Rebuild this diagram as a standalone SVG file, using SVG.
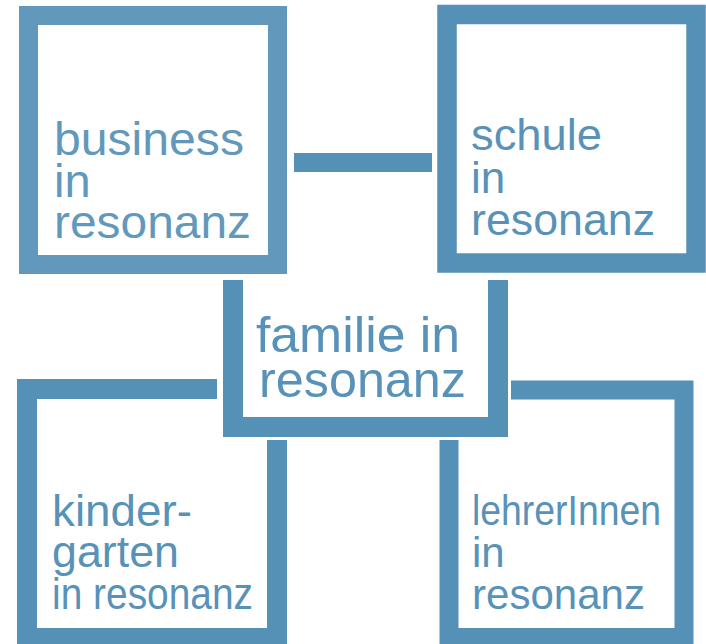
<svg xmlns="http://www.w3.org/2000/svg" width="706" height="644" viewBox="0 0 706 644">
<style>
.frame{fill:none;stroke:#5590b7;stroke-linejoin:miter;stroke-linecap:butt}
.lbl{font-family:"Liberation Sans",Arial,Helvetica,sans-serif;fill:#5892b8}
</style>
<rect width="706" height="644" fill="#ffffff"/>
<g id="connectors">
<rect x="294" y="153" width="138" height="19" fill="#5590b7"/>
</g>
<g id="business">
<rect class="frame" x="28.5" y="15.5" width="249" height="249" stroke-width="19" style="stroke:#6298bb"/>
<text class="lbl" font-size="47" style="fill:#6298bb"><tspan x="54" y="155" textLength="190" lengthAdjust="spacingAndGlyphs">business</tspan><tspan x="54" y="197">in</tspan><tspan x="54" y="238" textLength="197" lengthAdjust="spacingAndGlyphs">resonanz</tspan></text>
</g>
<g id="schule">
<rect class="frame" x="447" y="14.5" width="249" height="248.5" stroke-width="19.5"/>
<text class="lbl" font-size="44"><tspan x="471" y="150" textLength="131" lengthAdjust="spacingAndGlyphs">schule</tspan><tspan x="471" y="193">in</tspan><tspan x="471" y="235" textLength="184" lengthAdjust="spacingAndGlyphs">resonanz</tspan></text>
</g>
<g id="familie">
<path class="frame" d="M233,280 V427 H498 V280" stroke-width="20"/>
<text class="lbl" font-size="50"><tspan x="256" y="352" textLength="204" lengthAdjust="spacingAndGlyphs">familie in</tspan><tspan x="259" y="397" textLength="207" lengthAdjust="spacingAndGlyphs">resonanz</tspan></text>
</g>
<g id="kindergarten">
<path class="frame" d="M217,389 H27 V638 H277 V440" stroke-width="20"/>
<text class="lbl" font-size="44"><tspan x="52" y="526" textLength="140" lengthAdjust="spacingAndGlyphs">kinder-</tspan><tspan x="52" y="567" textLength="127" lengthAdjust="spacingAndGlyphs">garten</tspan><tspan x="52" y="609" textLength="201" lengthAdjust="spacingAndGlyphs">in resonanz</tspan></text>
</g>
<g id="lehrerinnen">
<path class="frame" d="M511,390 H684 V637.5 H449 V440" stroke-width="19"/>
<text class="lbl" font-size="42"><tspan x="472" y="525" textLength="189" lengthAdjust="spacingAndGlyphs">lehrerInnen</tspan><tspan x="472" y="567">in</tspan><tspan x="472" y="609" textLength="173" lengthAdjust="spacingAndGlyphs">resonanz</tspan></text>
</g>
</svg>
